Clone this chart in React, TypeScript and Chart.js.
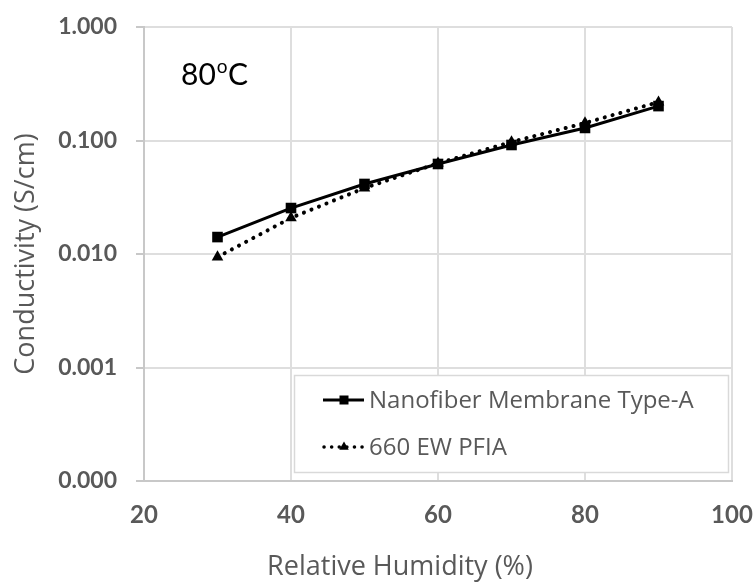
import React, { useEffect, useRef } from 'react';
import { Chart, registerables } from 'chart.js';

Chart.register(...registerables);

const humidity = [30, 40, 50, 60, 70, 80, 90];
const nanofiber = [0.0141, 0.0254, 0.0414, 0.0621, 0.0913, 0.129, 0.201];
const pfia = [0.0094, 0.0208, 0.0381, 0.063, 0.097, 0.1426, 0.218];
const yTickValues = [0.0001, 0.001, 0.01, 0.1, 1];
const seriesNames = ['Nanofiber Membrane Type-A', '660 EW PFIA'];
const xTitle = 'Relative Humidity (%)';
const yTitle = 'Conductivity (S/cm)';
const tempLabel = ['80', 'o', 'C'];

const FONT = 'Lato, "Open Sans", sans-serif';
const TFONT = '"Open Sans", Lato, sans-serif';
const GRAY = '#595959';

const overlayPlugin = {
  id: 'overlay',
  afterDraw(chart: any) {
    const { ctx } = chart;
    ctx.save();
    // x axis title
    ctx.fillStyle = GRAY;
    ctx.font = `27px ${TFONT}`;
    ctx.textAlign = 'center';
    ctx.textBaseline = 'middle';
    ctx.fillText(xTitle, 400, 567);

    // temperature annotation
    ctx.fillStyle = '#000';
    ctx.textAlign = 'left';
    ctx.textBaseline = 'alphabetic';
    ctx.font = `30px ${FONT}`;
    let x = 181;
    ctx.fillText(tempLabel[0], x, 85);
    x += ctx.measureText(tempLabel[0]).width + 1;
    ctx.font = `19px ${FONT}`;
    ctx.fillText(tempLabel[1], x, 73);
    x += ctx.measureText(tempLabel[1]).width + 0.5;
    ctx.font = `30px ${FONT}`;
    ctx.fillText(tempLabel[2], x, 85);

    // legend box
    const lx = 294, ly = 375, lw = 434, lh = 97;
    ctx.fillStyle = '#fff';
    ctx.fillRect(lx, ly, lw, lh);
    ctx.strokeStyle = '#d9d9d9';
    ctx.lineWidth = 1.5;
    ctx.strokeRect(lx + 0.5, ly + 0.5, lw, lh);

    const rows = [400, 447];
    // row 1: solid line + square
    ctx.strokeStyle = '#000';
    ctx.fillStyle = '#000';
    ctx.lineWidth = 3;
    ctx.setLineDash([]);
    ctx.beginPath();
    ctx.moveTo(323, rows[0]);
    ctx.lineTo(364, rows[0]);
    ctx.stroke();
    ctx.fillRect(344 - 4.5, rows[0] - 4.5, 9, 9);
    // row 2: dotted + triangle
    ctx.lineCap = 'round';
    ctx.lineWidth = 3.5;
    ctx.setLineDash([0.1, 7.5]);
    ctx.beginPath();
    ctx.moveTo(324, rows[1]);
    ctx.lineTo(365, rows[1]);
    ctx.stroke();
    ctx.setLineDash([]);
    ctx.beginPath();
    const r = 5.5;
    ctx.moveTo(344, rows[1] - r);
    ctx.lineTo(344 + r * 0.866, rows[1] + r / 2);
    ctx.lineTo(344 - r * 0.866, rows[1] + r / 2);
    ctx.closePath();
    ctx.fill();

    ctx.fillStyle = GRAY;
    ctx.font = `24px ${TFONT}`;
    ctx.textBaseline = 'middle';
    ctx.fillText(seriesNames[0], 369, rows[0] + 1);
    ctx.fillText(seriesNames[1], 369, rows[1] + 1);
    ctx.restore();
  },
};

export default function App() {
  const ref = useRef<HTMLCanvasElement | null>(null);

  useEffect(() => {
    document.body.style.margin = '0';
    if (!ref.current) return;
    const chart = new Chart(ref.current, {
      type: 'line',
      data: {
        datasets: [
          {
            label: seriesNames[0],
            data: humidity.map((h, i) => ({ x: h, y: nanofiber[i] })),
            borderColor: '#000',
            backgroundColor: '#000',
            borderWidth: 3,
            pointStyle: 'rect',
            pointRadius: 7.5,
            pointBorderWidth: 0,
            tension: 0,
          },
          {
            label: seriesNames[1],
            data: humidity.map((h, i) => ({ x: h, y: pfia[i] })),
            borderColor: '#000',
            backgroundColor: '#000',
            borderWidth: 4,
            borderDash: [0.1, 8],
            borderCapStyle: 'round',
            pointStyle: 'triangle',
            pointRadius: 6.7,
            pointBorderWidth: 0,
            tension: 0,
          },
        ],
      },
      options: {
        responsive: false,
        animation: false,
        layout: { padding: { left: 0, right: 24, top: 27, bottom: 0 } },
        plugins: {
          legend: { display: false },
          tooltip: { enabled: false },
        },
        scales: {
          x: {
            type: 'linear',
            min: 20,
            max: 100,
            ticks: {
              stepSize: 20,
              color: GRAY,
              font: { family: FONT, size: 24, weight: 'bold' },
              padding: 20,
            },
            grid: { color: '#dedede', lineWidth: 2, drawTicks: false },
            border: { color: '#c8c8c8', width: 2 },
            afterFit: (s: any) => {
              s.height = 103;
              s.paddingLeft = 0;
              s.paddingRight = 0;
            },
          },
          y: {
            type: 'logarithmic',
            min: 0.0001,
            max: 1,
            afterBuildTicks: (s: any) => {
              s.ticks = yTickValues.map((v) => ({ value: v }));
            },
            ticks: {
              color: GRAY,
              font: { family: FONT, size: 23, weight: 'bold' },
              padding: 19,
              callback: (v: any) => Number(v).toFixed(3),
            },
            grid: { color: '#dedede', lineWidth: 2, tickLength: 8, tickColor: '#c8c8c8' },
            border: { color: '#c8c8c8', width: 2 },
            title: {
              display: true,
              text: yTitle,
              color: GRAY,
              font: { family: TFONT, size: 27 },
              padding: { top: 10, bottom: 0 },
            },
            afterFit: (s: any) => {
              s.width = 144;
              s.paddingTop = 0;
              s.paddingBottom = 0;
            },
          },
        },
      },
      plugins: [overlayPlugin],
    } as any);
    return () => chart.destroy();
  }, []);

  return <canvas ref={ref} width={756} height={584} style={{ display: 'block' }} />;
}
